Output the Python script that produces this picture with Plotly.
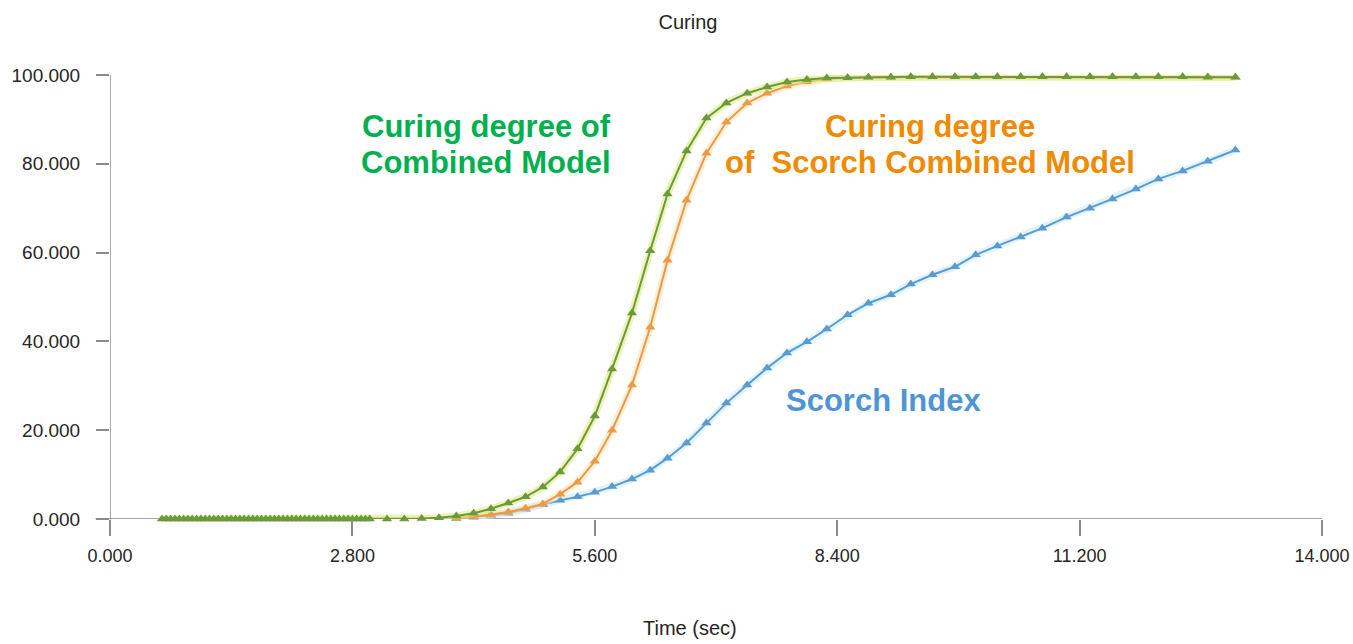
import plotly.graph_objects as go

# ---- data ----
green_early_t = [0.60, 0.65, 0.70, 0.75, 0.80, 0.85, 0.90, 0.95, 1.00, 1.05, 1.10, 1.15,
                 1.20, 1.25, 1.30, 1.35, 1.40, 1.45, 1.50, 1.55, 1.60, 1.65, 1.70, 1.75,
                 1.80, 1.85, 1.90, 1.95, 2.00, 2.05, 2.10, 2.15, 2.20, 2.25, 2.30, 2.35,
                 2.40, 2.45, 2.50, 2.55, 2.60, 2.65, 2.70, 2.75, 2.80, 2.85, 2.90, 2.95]
green_early_v = [0.0] * len(green_early_t)

late_t = [3.00, 3.20, 3.40, 3.60, 3.80, 4.00, 4.20, 4.40, 4.60, 4.80, 5.00, 5.20, 5.40,
          5.60, 5.80, 6.03, 6.24, 6.44, 6.66, 6.89, 7.12, 7.36, 7.59, 7.82, 8.05, 8.28,
          8.52, 8.76, 9.02, 9.25, 9.50, 9.76, 10.00, 10.25, 10.52, 10.77, 11.05, 11.32,
          11.58, 11.85, 12.11, 12.39, 12.68, 13.00]

green_late_v = [0.0, 0.0, 0.0, 0.1, 0.3, 0.7, 1.3, 2.3, 3.6, 5.0, 7.2, 10.6, 15.8,
                23.2, 33.8, 46.4, 60.4, 73.2, 82.9, 90.3, 93.7, 95.9, 97.3, 98.4, 99.0, 99.3,
                99.4, 99.5, 99.5, 99.6, 99.6, 99.6, 99.6, 99.6, 99.6, 99.6, 99.6, 99.6,
                99.6, 99.6, 99.6, 99.6, 99.5, 99.5]

orange_t = late_t[5:]
orange_v = [0.2, 0.5, 1.0, 1.6, 2.4, 3.4, 5.6, 8.3,
            13.0, 20.0, 30.2, 43.2, 58.3, 71.8, 82.4, 89.4, 93.7, 95.9, 97.5, 98.5, 99.1,
            99.4, 99.5, 99.5, 99.6, 99.6, 99.6, 99.6, 99.6, 99.6, 99.6, 99.6, 99.6,
            99.6, 99.6, 99.6, 99.6, 99.6, 99.5]

blue_t = late_t[5:]
blue_v = [0.1, 0.4, 0.8, 1.3, 2.2, 3.2, 4.2, 5.0,
          6.0, 7.3, 9.0, 11.0, 13.7, 17.1, 21.6, 26.1, 30.2, 34.0, 37.4, 39.9, 42.8,
          46.0, 48.6, 50.5, 52.9, 55.0, 56.8, 59.5, 61.5, 63.5, 65.5, 68.0, 70.0,
          72.1, 74.3, 76.6, 78.4, 80.6, 83.1]

x_ticks = [0.0, 2.8, 5.6, 8.4, 11.2, 14.0]
y_ticks = [0, 20, 40, 60, 80, 100]

green_t = green_early_t + late_t
green_v = green_early_v + green_late_v

# ---- figure (page body margin removed below, so figure px == page px) ----
W, H = 1353, 644
PL, PT, PW, PH = 110, 75, 1212, 444

fig = go.Figure()

def add_series(t, v, color, halo, name):
    fig.add_trace(go.Scatter(x=t, y=v, mode="lines", line=dict(color=halo, width=7),
                             opacity=0.55, hoverinfo="skip", showlegend=False, cliponaxis=False))
    fig.add_trace(go.Scatter(x=t, y=v, mode="lines+markers", name=name,
                             line=dict(color=color, width=2),
                             marker=dict(symbol="triangle-up", size=9, color=color),
                             showlegend=False, cliponaxis=False))

add_series(blue_t, blue_v, "#5B9BCF", "#C6ECFA", "Scorch Index")
add_series(orange_t, orange_v, "#EE9A45", "#FBE3B8", "Curing degree of Scorch Combined Model")
add_series(green_t, green_v, "#6A9A3A", "#DDEB7A", "Curing degree of Combined Model")

y_font = dict(family="Liberation Sans, Arial, sans-serif", size=19, color="#262626")
x_font = dict(family="Liberation Sans, Arial, sans-serif", size=18, color="#262626")

fig.update_xaxes(range=[0, 14], tickvals=x_ticks, tickformat=".3f", ticks="outside",
                 ticklen=16, tickcolor="#8a8a8a", tickwidth=1.5, showgrid=False,
                 zeroline=False, showline=False, tickfont=x_font, ticklabelstandoff=4,
                 automargin=False)
fig.update_yaxes(range=[0, 100], tickvals=y_ticks, tickformat=".3f", ticks="outside",
                 ticklen=13, tickcolor="#8a8a8a", tickwidth=1.5, showgrid=False,
                 zeroline=False, showline=False, tickfont=y_font, ticklabelstandoff=12,
                 automargin=False)

# axis lines that slightly overshoot, as in the reference
fig.add_shape(type="line", xref="x", yref="paper", x0=0, x1=0, y0=-0.035, y1=1.0,
              line=dict(color="#8a8a8a", width=1.5), layer="below")
fig.add_shape(type="line", xref="paper", yref="y", x0=-0.012, x1=1.0, y0=0, y1=0,
              line=dict(color="#8a8a8a", width=1.5), layer="below")

ann_font = "Liberation Sans, Arial, sans-serif"

fig.update_layout(
    width=W, height=H,
    margin=dict(l=PL, r=W - PL - PW, t=PT, b=H - PT - PH, autoexpand=False),
    paper_bgcolor="white", plot_bgcolor="white",
    title=dict(text="Curing", x=688 / W, xanchor="center", xref="container",
               y=1 - 22 / H, yanchor="middle", yref="container",
               font=dict(family="Liberation Sans, Arial, sans-serif", size=20, color="#262626")),
)

def px_label(text, px_x, px_y, color, size=31, bold=True):
    fx = (px_x - PL) / PW
    fy = (PT + PH - px_y) / PH
    fig.add_annotation(x=fx, y=fy, xref="paper", yref="paper",
                       text=f"<b>{text}</b>" if bold else text, showarrow=False,
                       font=dict(family=ann_font, size=size, color=color),
                       xanchor="center", yanchor="middle", align="center")

px_label("Curing degree of", 486, 126, "#00B050")
px_label("Combined Model", 486, 162, "#00B050")
px_label("Curing degree", 930, 126, "#F08A00")
px_label("of  Scorch Combined Model", 930, 162, "#F08A00")
px_label("Scorch Index", 883, 400, "#4F95D6")
px_label("Time (sec)", 690, 628, "#262626", size=20, bold=False)

fig.write_html(
    "out.html",
    config={"displayModeBar": False},
    post_script="document.body.style.margin='0';document.body.style.overflow='hidden';",
)
